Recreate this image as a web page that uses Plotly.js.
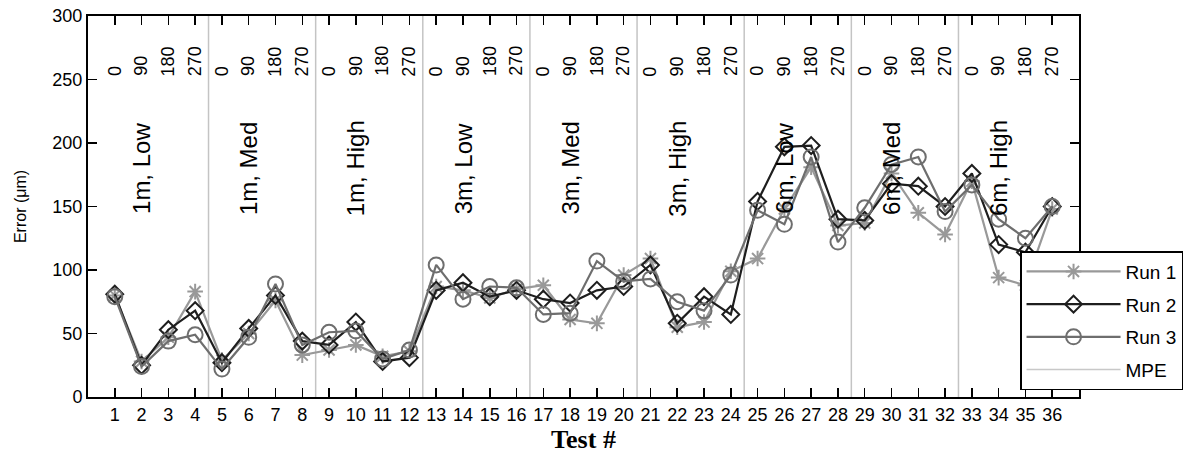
<!DOCTYPE html>
<html>
<head>
<meta charset="utf-8">
<script src="https://cdn.plot.ly/plotly-3.0.1.min.js"></script>
<style>html,body{margin:0;padding:0;background:#fff;}#chart{width:1183px;height:466px;}</style>
</head>
<body>
<div id="chart"></div>
<script>
// ---- data ----
const tests = Array.from({length: 36}, (_, i) => i + 1);
const angles = ['0', '90', '180', '270'];
const groups = ['1m, Low', '1m, Med', '1m, High', '3m, Low', '3m, Med', '3m, High', '6m, Low', '6m, Med', '6m, High'];
const run1 = [80, 28, 47, 83, 29, 50, 76, 33, 37, 41, 32, 36, 87, 84, 78, 85, 88, 61, 58, 96, 109, 55, 59, 99, 109, 148, 181, 135, 137, 176, 145, 128, 170, 94, 88, 148];
const run2 = [81, 25, 53, 68, 27, 54, 80, 44, 41, 59, 28, 31, 84, 90, 79, 84, 77, 74, 84, 87, 104, 58, 79, 65, 154, 197, 198, 140, 139, 168, 166, 150, 176, 120, 114, 150];
const run3 = [79, 24, 44, 49, 22, 47, 89, 41, 51, 52, 30, 37, 104, 77, 87, 86, 65, 66, 107, 91, 93, 75, 68, 96, 147, 136, 189, 122, 149, 183, 189, 146, 167, 140, 125, 150];
const mpe = [null];

const FONT = 'Liberation Sans, Arial, sans-serif';

const traces = [
  {x: tests, y: run1, name: 'Run 1', mode: 'lines+markers', legendgroup: 'a',
   line: {color: '#999999', width: 2.2},
   marker: {symbol: 'asterisk-open', size: 13, line: {color: '#999999', width: 2}}},
  {x: tests, y: run2, name: 'Run 2', mode: 'lines+markers', legendgroup: 'b',
   line: {color: '#1e1e1e', width: 2.2},
   marker: {symbol: 'diamond-open', size: 13, color: '#1e1e1e', line: {color: '#1e1e1e', width: 2}}},
  {x: tests, y: run3, name: 'Run 3', mode: 'lines+markers', legendgroup: 'c',
   line: {color: '#6e6e6e', width: 2.2},
   marker: {symbol: 'circle-open', size: 15, color: '#6e6e6e', line: {color: '#6e6e6e', width: 2}}},
  {x: mpe, y: mpe, name: 'MPE', mode: 'lines', legendgroup: 'd', showlegend: true,
   line: {color: '#c8c8c8', width: 1.5}}
];

// group separators and labels (derived from groups / tests)
const perGroup = tests.length / groups.length;
const shapes = [];
for (let g = 1; g < groups.length; g++) {
  const xs = g * perGroup + 0.5;
  shapes.push({type: 'line', xref: 'x', yref: 'y', x0: xs, x1: xs, y0: 0, y1: 300,
    line: {color: '#c4c4c4', width: 1.5}, layer: 'below'});
}
const annotations = [];
tests.forEach((t, i) => {
  annotations.push({x: t, y: 251, xref: 'x', yref: 'y', text: angles[i % angles.length],
    textangle: -90, showarrow: false, xanchor: 'center', yanchor: 'bottom',
    font: {family: FONT, size: 18, color: '#000'}});
});
groups.forEach((g, k) => {
  annotations.push({x: k * perGroup + 2, y: 180, xref: 'x', yref: 'y', text: g,
    textangle: -90, showarrow: false, xanchor: 'center', yanchor: 'middle',
    font: {family: FONT, size: 24, color: '#000'}});
});

const layout = {
  width: 1183, height: 466,
  margin: {l: 88, r: 104, t: 16, b: 69, autoexpand: false},
  paper_bgcolor: '#fff', plot_bgcolor: '#fff',
  showlegend: true,
  legend: {x: 0.9405, y: 0.383, xanchor: 'left', yanchor: 'top',
    bgcolor: '#fff', bordercolor: '#000', borderwidth: 1.5,
    font: {family: FONT, size: 19, color: '#000'},
    traceorder: 'grouped', tracegroupgap: 5, itemwidth: 94},
  xaxis: {range: [0, 37], tickmode: 'array', tickvals: tests, ticktext: tests.map(String),
    ticks: 'inside', ticklen: 9, tickwidth: 1.5, tickcolor: '#000',
    showline: true, linecolor: '#000', linewidth: 2, mirror: 'ticks',
    showgrid: false, zeroline: false,
    tickfont: {family: FONT, size: 18, color: '#000'},
    title: {text: '<b>Test #</b>', font: {family: 'Liberation Serif, Times New Roman, serif', size: 26, color: '#000'}, standoff: 6}},
  yaxis: {range: [0, 300], tickvals: [0, 50, 100, 150, 200, 250, 300],
    ticks: 'inside', ticklen: 9, tickwidth: 1.5, tickcolor: '#000',
    showline: true, linecolor: '#000', linewidth: 2, mirror: 'ticks',
    showgrid: false, zeroline: false,
    tickfont: {family: FONT, size: 18, color: '#000'},
    title: {text: 'Error (\u03bcm)', font: {family: FONT, size: 16, color: '#000'}, standoff: 22}},
  shapes: shapes,
  annotations: annotations
};

Plotly.newPlot('chart', traces, layout, {displayModeBar: false, staticPlot: true});
</script>
</body>
</html>
